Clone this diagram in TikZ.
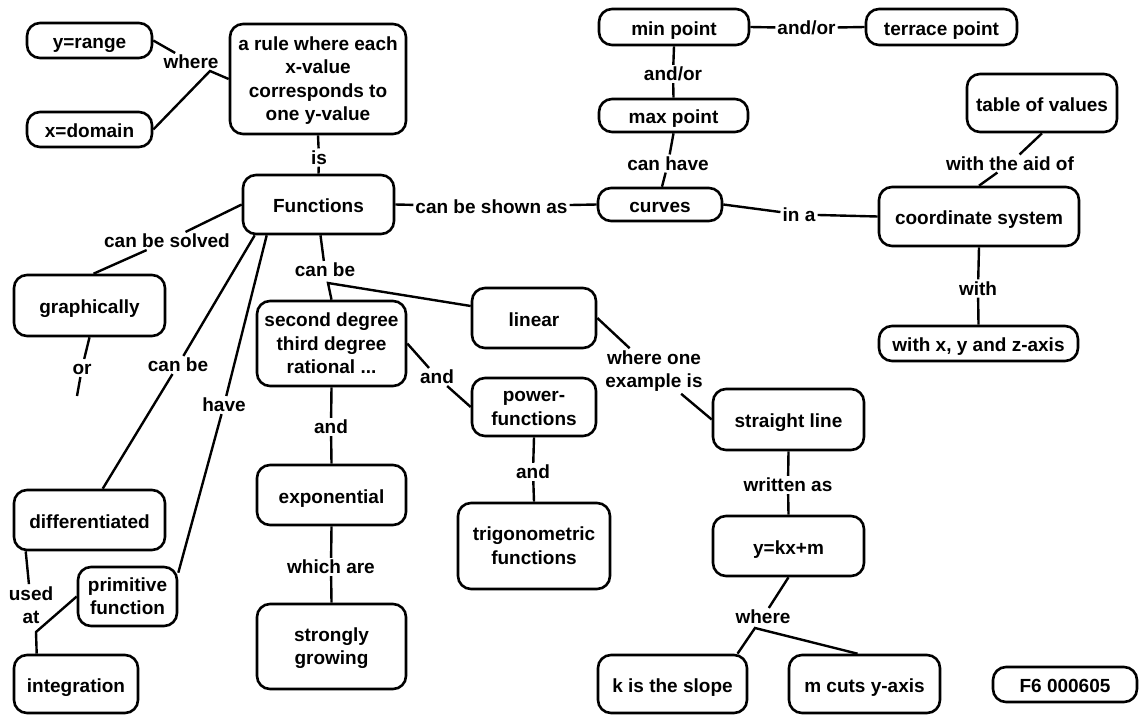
\documentclass[tikz,border=0pt]{standalone}
\usepackage{fontspec}
\setmainfont{Liberation Sans}
\usetikzlibrary{calc}
\newcommand{\mlines}[1]{\raisebox{-2pt}[\height][\depth]{\begin{tabular}{@{}c@{}}#1\end{tabular}}}
\begin{document}
\begin{tikzpicture}[x=1pt,y=-1pt,
  txt/.style={font=\bfseries\fontsize{19}{23.5}\selectfont},
  box/.style={txt, draw, line width=2.6pt, rounded corners=13pt, inner sep=0pt},
  onebox/.style={box, text height=16.5pt, text depth=0pt},
  lbl/.style={txt, inner sep=2pt, text height=13.7pt, text depth=0pt},
  lbltwo/.style={txt, inner sep=2pt, align=center},
  conn/.style={line width=2.4pt}]
\useasboundingbox (0,0) rectangle (1139,715);

% boxes
\node[onebox, minimum width=125, minimum height=35] (yr) at (89.5,40.5) {y=range};
\node[onebox, minimum width=125, minimum height=35] (xd) at (89.5,129.5) {x=domain};
\node[box, minimum width=176, minimum height=110] (rule) at (318,79) {\mlines{a rule where each\\x-value\\corresponds to\\one y-value}};
\node[onebox, minimum width=151, minimum height=59] (func) at (318.5,204.5) {Functions};
\node[onebox, minimum width=150, minimum height=36] (minp) at (674,27) {min point};
\node[onebox, minimum width=151, minimum height=36] (terr) at (941.5,27) {terrace point};
\node[onebox, minimum width=149, minimum height=33] (maxp) at (673.5,115.5) {max point};
\node[onebox, minimum width=124, minimum height=33] (curves) at (660,204.5) {curves};
\node[onebox, minimum width=150, minimum height=58] (table) at (1042,103) {table of values};
\node[onebox, minimum width=200, minimum height=59] (coord) at (979,216.5) {coordinate system};
\node[onebox, minimum width=199, minimum height=35] (xyz) at (978.5,343.5) {with x, y and z-axis};
\node[onebox, minimum width=151, minimum height=61] (graph) at (89.5,305.5) {graphically};
\node[onebox, minimum width=151, minimum height=60] (diff) at (89.5,520) {differentiated};
\node[box, minimum width=99, minimum height=59] (prim) at (127.5,596.5) {\mlines{primitive\\function}};
\node[onebox, minimum width=124, minimum height=58] (integ) at (76,684) {integration};
\node[box, minimum width=149, minimum height=85] (secdeg) at (331.5,343.5) {\mlines{second degree\\third degree\\rational ...}};
\node[onebox, minimum width=124, minimum height=60] (linear) at (534,318) {linear};
\node[box, minimum width=124, minimum height=58] (power) at (534,407) {\mlines{power-\\functions}};
\node[onebox, minimum width=149, minimum height=60] (expo) at (331.5,495) {exponential};
\node[box, minimum width=149, minimum height=85] (strong) at (331.5,646.5) {\mlines{strongly\\growing}};
\node[box, minimum width=152, minimum height=86] (trig) at (534,546) {\mlines{trigonometric\\functions}};
\node[onebox, minimum width=151, minimum height=61] (straight) at (788.5,419.5) {straight line};
\node[onebox, minimum width=151, minimum height=60] (ykxm) at (788.5,546) {y=kx+m};
\node[onebox, minimum width=149, minimum height=58] (kslope) at (672.5,684) {k is the slope};
\node[onebox, minimum width=151, minimum height=58] (mcuts) at (864.5,684) {m cuts y-axis};
\node[onebox, minimum width=144, minimum height=35] (f6) at (1065,684.5) {F6 000605};

% labels
\node[lbl] (lwhere) at (191,62) {where};
\node[lbl] (lis) at (319,157.5) {is};
\node[lbl] (lshown) at (491.5,206.5) {can be shown as};
\node[lbl] (landor1) at (673,74) {and/or};
\node[lbl] (lcanhave) at (668,163.5) {can have};
\node[lbl] (landor2) at (806.5,28) {and/or};
\node[lbl] (laid) at (1010,163.5) {with the aid of};
\node[lbl] (lina) at (799,214.5) {in a};
\node[lbl] (lwith) at (978,288.5) {with};
\node[lbl] (lsolved) at (167,241) {can be solved};
\node[lbl] (lor) at (82,368) {or};
\node[lbl] (lcanbe1) at (178,365) {can be};
\node[lbl] (lhave) at (224,405) {have};
\node[lbl] (lcanbe2) at (325,270) {can be};
\node[lbl] (land1) at (437,377) {and};
\node[lbl] (land2) at (331,427) {and};
\node[lbl] (land3) at (533,472) {and};
\node[lbl] (lwhich) at (331,567) {which are};
\node[lbltwo] (lused) at (31,605) {used\\at};
\node[lbltwo] (lexample) at (654,371) {where one\\example is};
\node[lbl] (lwritten) at (788,485) {written as};
\node[lbl] (lwhere2) at (763,617) {where};

% hubs and free ends
\coordinate (hw) at (210,71);
\coordinate (orend) at (77,396);
\coordinate (hcb) at (328,283);
\coordinate (hu) at (36,632);
\coordinate (hw2) at (755,628);

% connectors
\draw[conn] (yr.east) -- (lwhere);
\draw[conn] (xd.east) -- (hw) -- (rule.west);
\draw[conn] (rule.south) -- (lis) -- (func.north);
\draw[conn] (func.east) -- (lshown) -- (curves.west);
\draw[conn] (minp.south) -- (landor1) -- (maxp.north);
\draw[conn] (maxp.south) -- (lcanhave) -- ($(curves.north)+(2,0)$);
\draw[conn] (minp.east) -- (landor2) -- (terr.west);
\draw[conn] (table.south) -- (laid) -- (coord.north);
\draw[conn] (curves.east) -- (lina) -- (coord.west);
\draw[conn] (coord.south) -- (lwith) -- (xyz.north);
\draw[conn] (func.west) -- (lsolved) -- ($(graph.north)+(4,0)$);
\draw[conn] (graph.south) -- (lor) -- (orend);
\draw[conn] ($(func.south west)+(13,0)$) -- (lcanbe1) -- ($(diff.north west)+(90,0)$);
\draw[conn] ($(func.south west)+(25,0)$) -- (lhave) -- ($(prim.north east)+(0,7)$);
\draw[conn] ($(func.south)+(2,0)$) -- (lcanbe2);
\draw[conn] (secdeg.north) -- (hcb) -- ($(linear.west)+(0,-12)$);
\draw[conn] (secdeg.east) -- (land1) -- (power.west);
\draw[conn] (secdeg.south) -- (land2) -- (expo.north);
\draw[conn] (power.south) -- (land3) -- (trig.north);
\draw[conn] (expo.south) -- (lwhich) -- (strong.north);
\draw[conn] ($(diff.south west)+(13,0)$) -- (lused);
\draw[conn] (prim.west) -- (hu) -- ($(integ.north west)+(24,0)$);
\draw[conn] (linear.east) -- (lexample) -- (straight.west);
\draw[conn] (straight.south) -- (lwritten) -- (ykxm.north);
\draw[conn] (ykxm.south) -- (lwhere2);
\draw[conn] ($(kslope.north)+(65,0)$) -- (hw2) -- ($(mcuts.north)+(-7,0)$);
\end{tikzpicture}
\end{document}
